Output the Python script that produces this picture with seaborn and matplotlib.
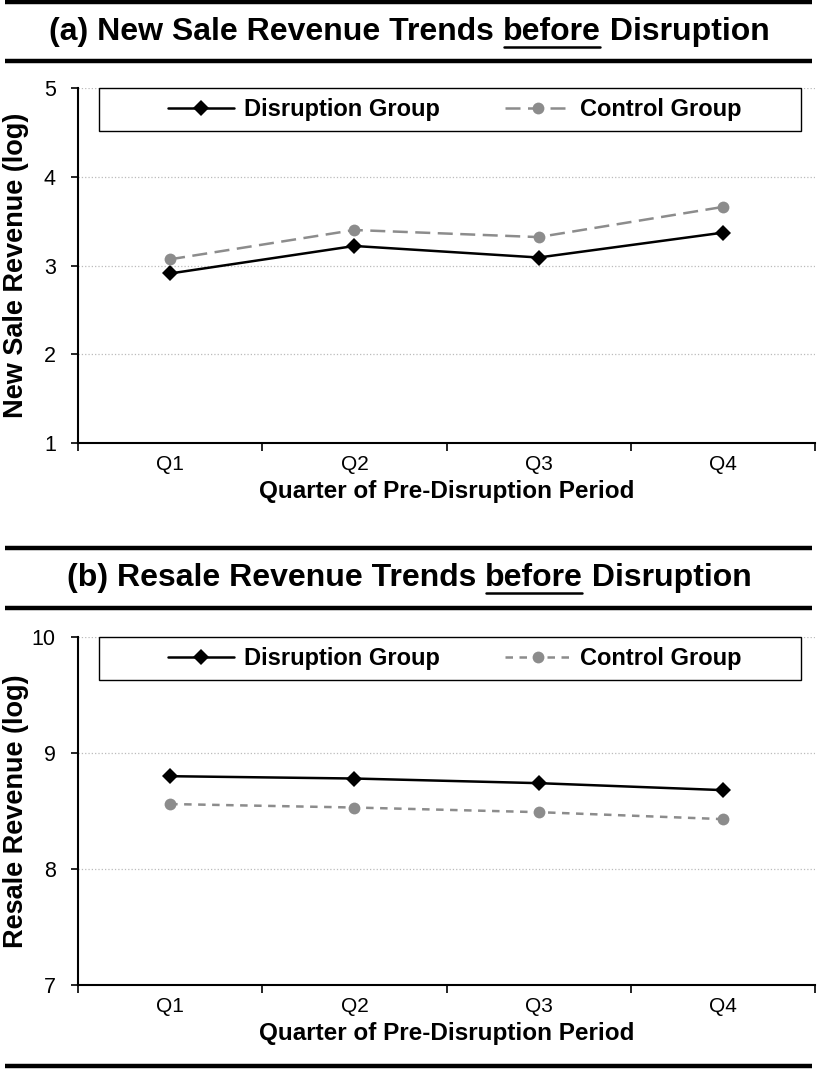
import pandas as pd
import seaborn as sns
import matplotlib.pyplot as plt
from matplotlib.lines import Line2D
from matplotlib.patches import Rectangle

quarters = ["Q1", "Q2", "Q3", "Q4"]
groups = ["Disruption Group", "Control Group"]

new_sale_disruption = [2.91, 3.22, 3.09, 3.37]
new_sale_control = [3.07, 3.40, 3.32, 3.66]
resale_disruption = [8.80, 8.78, 8.74, 8.68]
resale_control = [8.56, 8.53, 8.49, 8.43]

sns.set_theme(style="white")
plt.rcParams["font.family"] = ["Liberation Sans", "DejaVu Sans"]
plt.rcParams["text.color"] = "black"
plt.rcParams["axes.labelcolor"] = "black"
plt.rcParams["xtick.color"] = "black"
plt.rcParams["ytick.color"] = "black"

W, H = 817, 1069
fig = plt.figure(figsize=(W / 100, H / 100), dpi=100)


def fx(px):
    return px / W


def fy(py):
    return 1 - py / H


def make_df(dis, ctl):
    return pd.DataFrame({
        "Quarter": quarters * 2,
        "Value": dis + ctl,
        "Group": [groups[0]] * 4 + [groups[1]] * 4,
    })


def rule(y):
    fig.add_artist(Line2D([fx(5), fx(812)], [fy(y), fy(y)], color="black", lw=3.2,
                          solid_capstyle="butt"))


def title(y, pre, word, post):
    # title with the middle word underlined
    fs = 23
    r = fig.canvas.get_renderer()
    parts = [pre, word, post]
    widths = []
    for p in parts:
        t = fig.text(0, 0, p, fontsize=fs, fontweight="bold")
        widths.append(t.get_window_extent(r).width)
        t.remove()
    total = sum(widths)
    x = (W - total) / 2 + 1
    for i, p in enumerate(parts):
        fig.text(fx(x), fy(y), p, fontsize=fs, fontweight="bold", ha="left", va="center")
        if i == 1:
            fig.add_artist(Line2D([fx(x + 1), fx(x + widths[i] - 1)], [fy(y + 15), fy(y + 15)],
                                  color="black", lw=1.8))
        x += widths[i]


def panel(top, bottom, dis, ctl, ylim, ylabel, dash):
    ax = fig.add_axes([fx(78), fy(bottom), fx(815) - fx(78), fy(top) - fy(bottom)])
    df = make_df(dis, ctl)
    sns.lineplot(data=df, x="Quarter", y="Value", hue="Group", style="Group",
                 palette={groups[0]: "black", groups[1]: "#8c8c8c"},
                 markers={groups[0]: "D", groups[1]: "o"},
                 dashes={groups[0]: "", groups[1]: dash},
                 markersize=8.5, linewidth=1.8, markeredgewidth=0, ax=ax, legend=True)
    ax.set_xlim(-0.5, 3.5)
    ax.set_ylim(*ylim)
    ax.set_yticks(range(ylim[0], ylim[1] + 1))
    # tick marks between categories, labels centred on categories
    ax.set_xticks([-0.5, 0.5, 1.5, 2.5, 3.5], minor=False)
    ax.set_xticklabels([])
    ax.set_xticks([0, 1, 2, 3], minor=True)
    ax.set_xticklabels(quarters, minor=True, fontsize=15)
    ax.tick_params(axis="x", which="major", length=6, width=1.2, direction="out", bottom=True, color="black")
    ax.tick_params(axis="x", which="minor", length=0, pad=9)
    ax.tick_params(axis="y", length=5, width=1.2, direction="out", left=True, labelsize=15.5, pad=11, color="black")
    ax.yaxis.grid(True, linestyle=":", color="#bbbbbb", lw=0.9)
    ax.xaxis.grid(False)
    for s in ["top", "right"]:
        ax.spines[s].set_visible(False)
    for s in ["left", "bottom"]:
        ax.spines[s].set_color("black")
        ax.spines[s].set_linewidth(1.5)
    ax.set_xlabel("Quarter of Pre-Disruption Period", fontsize=17.5, fontweight="bold", labelpad=4)
    ax.set_ylabel(ylabel, fontsize=19.5, fontweight="bold")
    ax.yaxis.label.set_verticalalignment("center")
    ax.yaxis.set_label_coords(-0.084, 0.5)
    h, l = ax.get_legend_handles_labels()
    ax.get_legend().remove()
    ax_h = bottom - top
    ax.add_patch(Rectangle(((99 - 78) / 737, 1 - 43 / ax_h), 702 / 737, 43 / ax_h,
                           transform=ax.transAxes, fill=True, facecolor="white",
                           edgecolor="black", lw=1.0, zorder=5, clip_on=False))
    leg = ax.legend(h, l, loc="center", bbox_to_anchor=((455 - 78) / 737, 1 - 21.5 / ax_h),
                    ncol=2, frameon=False, fontsize=17, handlelength=2.8, handletextpad=0.4,
                    columnspacing=2.75, borderpad=0)
    leg.set_zorder(6)
    for t in leg.get_texts():
        t.set_fontweight("bold")
    return ax


rule(2)
title(32, "(a) New Sale Revenue Trends ", "before", " Disruption")
rule(61)
panel(88, 443, new_sale_disruption, new_sale_control, (1, 5), "New Sale Revenue (log)", (6, 3))

rule(548)
title(578, "(b) Resale Revenue Trends ", "before", " Disruption")
rule(608)
panel(637, 985, resale_disruption, resale_control, (7, 10), "Resale Revenue (log)", (3, 2.6))
rule(1066)

fig.savefig("out.png", dpi=100)
